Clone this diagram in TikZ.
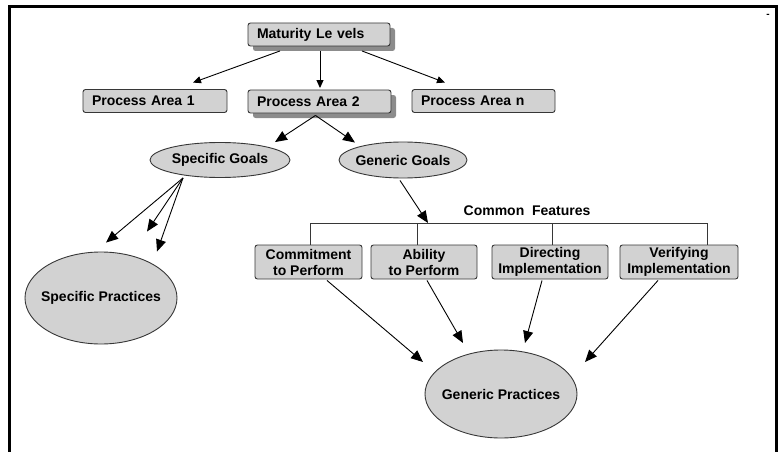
\documentclass[tikz,border=0pt]{standalone}
\usepackage{fontspec}
\setmainfont{Liberation Sans}
\usetikzlibrary{shapes.geometric,shadows,arrows.meta}
\definecolor{boxfill}{RGB}{210,210,210}
\definecolor{boxline}{RGB}{55,55,55}
\definecolor{shade}{RGB}{140,140,140}
\tikzset{
  lbl/.style={font=\bfseries\fontsize{14}{16}\selectfont},
  pbox/.style={lbl, draw=boxline, line width=0.9pt, fill=boxfill, rounded corners=2.5pt,
     minimum height=23pt, inner xsep=9pt, inner ysep=0pt, align=left},
  shbox/.style={pbox, drop shadow={shadow xshift=5pt, shadow yshift=-5pt, fill=shade, opacity=1}},
  fbox/.style={lbl, draw=boxline, line width=0.9pt, fill=boxfill, rounded corners=2.5pt,
     minimum height=34pt, inner sep=0pt, align=center},
  oval/.style={ellipse, draw=boxline, line width=0.9pt, fill=boxfill, inner sep=0pt,
     label={[lbl, inner sep=0pt]center:#1}},
  arr/.style={line width=0.9pt, -{Triangle[length=12pt,width=10pt]}},
  sarr/.style={line width=0.9pt, -{Triangle[length=8pt,width=7pt]}},
  bar/.style={line width=0.9pt, draw=boxline},
}
\begin{document}
\begin{tikzpicture}[x=1pt,y=-1pt]
\useasboundingbox (0,0) rectangle (782,452);
% frame
\draw[line width=3pt] (9.5,452) -- (9.5,6.5) -- (776,6.5) -- (776,452);
\node[font=\bfseries\fontsize{10}{10}\selectfont, inner sep=0pt] (dash) at (768,16) {-};
% top boxes
\node[shbox, text width=124pt] (ml) at (319,34.5) {Maturity Le vels};
\node[pbox, text width=126pt] (pa1) at (155,101) {Process Area 1};
\node[shbox, text width=125pt] (pa2) at (319.5,101.5) {Process Area 2};
\node[pbox, text width=125pt] (pan) at (483.5,101) {Process Area n};
% goals
\node[oval={Specific Goals}, minimum width=140pt, minimum height=35pt] (sg) at (220,160) {};
\node[oval={Generic Goals}, minimum width=128pt, minimum height=36pt] (gg) at (403,160) {};
% practices
\node[oval={Specific Practices}, minimum width=152pt, minimum height=92pt] (sp) at (101,298) {};
\node[oval={Generic Practices}, minimum width=152pt, minimum height=88pt] (gp) at (501,394) {};
% common features
\node[lbl, inner sep=0pt] (cf) at (527,211) {Common\hspace{0.55em}Features};
\node[fbox, minimum width=107pt] (cp) at (308.5,262) {Commitment\\to Perform};
\node[fbox, minimum width=106pt] (ap) at (424,262) {Ability\\to Perform};
\node[fbox, minimum width=116pt] (di) at (550,262) {Directing\\Implementation};
\node[fbox, minimum width=118pt] (vi) at (679,262) {Verifying\\Implementation};
\coordinate (d1) at (310,223);
\coordinate (d2) at (417,223);
\coordinate (d3) at (552,223);
\coordinate (d4) at (707,223);
\coordinate (gtip) at (428,223);
\draw[bar] (d1) -- (d4);
\draw[bar] (d1) -- (d1 |- cp.north);
\draw[bar] (d2) -- (d2 |- ap.north);
\draw[bar] (d3) -- (d3 |- di.north);
\draw[bar] (d4) -- (d4 |- vi.north);
% arrows
\draw[sarr] ([xshift=-39pt,yshift=-4.5pt]ml.south) -- ([xshift=38pt,yshift=6.5pt]pa1.north);
\draw[sarr] ([xshift=1pt,yshift=-4.5pt]ml.south) -- ([xshift=0.5pt,yshift=1.5pt]pa2.north);
\draw[sarr] ([xshift=43pt,yshift=-4.5pt]ml.south) -- ([xshift=-38.5pt,yshift=6.5pt]pan.north);
\draw[arr] ([xshift=-4pt,yshift=-2pt]pa2.south) -- ([xshift=55pt,yshift=0pt]sg.north);
\draw[arr] ([xshift=-4pt,yshift=-2pt]pa2.south) -- ([xshift=-48pt,yshift=-1pt]gg.north);
\draw[arr] ([xshift=-37pt]sg.south) -- ([xshift=5pt,yshift=9pt]sp.north);
\draw[arr] ([xshift=-37pt]sg.south) -- ([xshift=46pt,yshift=20pt]sp.north);
\draw[arr] ([xshift=-37pt]sg.south) -- ([xshift=56pt,yshift=0pt]sp.north);
\draw[arr] ([xshift=-3pt,yshift=-2pt]gg.south) -- (gtip);
\draw[arr] ([xshift=18.5pt,yshift=-1pt]cp.south) -- ([xshift=-78pt,yshift=32pt]gp.center);
\draw[arr] ([xshift=3pt,yshift=-1pt]ap.south) -- ([xshift=-38pt,yshift=51pt]gp.center);
\draw[arr] ([xshift=-8pt,yshift=-1pt]di.south) -- ([xshift=24pt,yshift=51pt]gp.center);
\draw[arr] ([xshift=-21pt,yshift=-1pt]vi.south) -- ([xshift=84pt,yshift=32pt]gp.center);
\end{tikzpicture}
\end{document}
